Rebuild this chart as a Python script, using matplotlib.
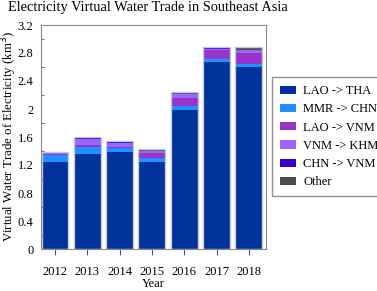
import numpy as np
import matplotlib
matplotlib.use("Agg")
import matplotlib.pyplot as plt

years = ["2012", "2013", "2014", "2015", "2016", "2017", "2018"]
lao_tha = [1.24, 1.357, 1.386, 1.24, 1.986, 2.67, 2.595]
mmr_chn = [0.10, 0.096, 0.061, 0.06, 0.052, 0.045, 0.043]
lao_vnm = [0.02, 0.033, 0.014, 0.07, 0.123, 0.125, 0.162]
vnm_khm = [0.01, 0.085, 0.058, 0.03, 0.05, 0.02, 0.042]
chn_vnm = [0.006, 0.01, 0.005, 0.005, 0.01, 0.01, 0.005]
other = [0.01, 0.02, 0.015, 0.025, 0.02, 0.02, 0.034]

series = [lao_tha, mmr_chn, lao_vnm, vnm_khm, chn_vnm, other]
labels = ["LAO -> THA", "MMR -> CHN", "LAO -> VNM", "VNM -> KHM", "CHN -> VNM", "Other"]
colors = ["#003399", "#1e90ff", "#9933cc", "#9966ff", "#3300cc", "#4d4d4d"]

plt.rcParams['font.family'] = ['Liberation Serif', 'DejaVu Serif']
plt.rcParams['font.size'] = 9

fig = plt.figure(figsize=(3.77, 2.91), dpi=100)
ax = fig.add_axes([40.7/377, 1-249/291, 225/377, 224/291])

x = np.arange(len(years))
w = 0.83
bottom = np.zeros(len(years))
for vals, lab, col in zip(series, labels, colors):
    ax.bar(x, vals, w, bottom=bottom, color=col, label=lab, linewidth=0)
    bottom += np.array(vals)
ax.bar(x, bottom, w, fill=False, edgecolor="#c4c8dc", linewidth=1)

ax.set_xlim(-0.44, 6.52)
ax.set_ylim(0, 3.2)
ax.set_xticks(x)
ax.set_xticklabels(years)
ax.tick_params(axis='x', direction='out', length=4.3, color='#555555', pad=8)
ax.set_yticks(np.arange(0, 3.21, 0.4))
ax.set_yticklabels(["0", "0.4", "0.8", "1.2", "1.6", "2", "2.4", "2.8", "3.2"])
ax.tick_params(axis='y', which='major', length=0, pad=5.3)
ax.set_yticks(np.arange(0.2, 3.2, 0.4), minor=True)
ax.tick_params(axis='y', which='minor', direction='in', length=2.3, color='#555555')
for s in ax.spines.values():
    s.set_color('#888888')

ax.set_xlabel("Year", labelpad=0)
fig.text(9/377, 1-136/291, "Virtual Water Trade of Electricity (km$^3$)",
         rotation=90, ha='center', va='center', fontsize=9.3)
fig.text(148/377, 1-8/291, "Electricity Virtual Water Trade in Southeast Asia",
         ha='center', va='center', fontsize=10.4)

leg = ax.legend(loc='upper left', bbox_to_anchor=(272/377, 1-77/291),
                bbox_transform=fig.transFigure, borderaxespad=0,
                fancybox=False, edgecolor='#777777', handlelength=1.3,
                handleheight=0.65, labelspacing=0.5, borderpad=0.65,
                handletextpad=0.55)
leg.get_frame().set_linewidth(1)

fig.savefig("out.png", dpi=100)
